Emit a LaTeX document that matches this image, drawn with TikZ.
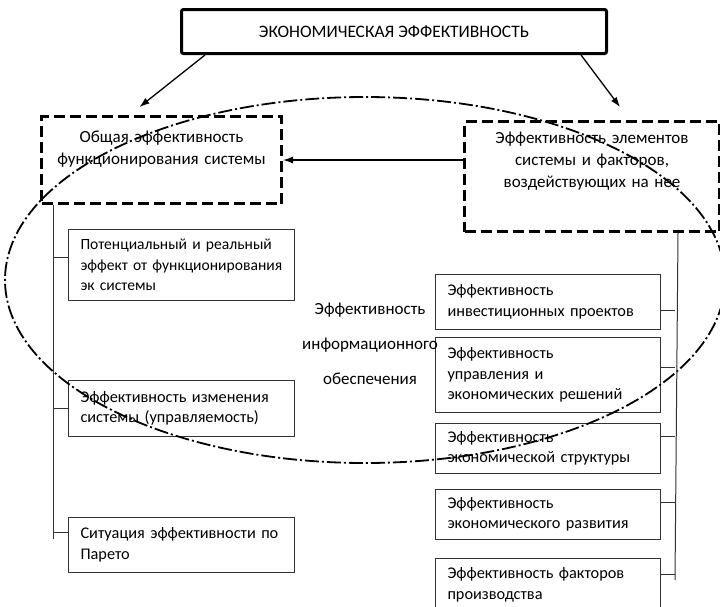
\documentclass[tikz,border=0pt]{standalone}
\usepackage{fontspec}
\setmainfont{Carlito}
\usetikzlibrary{arrows.meta}
\tikzset{
  box/.style={draw=black!80, line width=1pt, anchor=north west, inner xsep=12pt, align=left, font=\fontsize{16.3}{20.5}\selectfont},
  dbox/.style={draw, line width=3pt, dash pattern=on 11pt off 5pt, anchor=north west, align=center, text height=12pt, font=\fontsize{17}{22}\selectfont},
  arr/.style={line width=1.3pt, -{Latex[length=10pt,width=7pt]}},
  bus/.style={draw=black!80, line width=1pt}
}
\begin{document}
\begin{tikzpicture}[x=1pt,y=-1pt]
    \useasboundingbox (0,0) rectangle (720,606);
    \clip (0,0) rectangle (720,606);
    \fill[white] (0,0) rectangle (720,606);
    %% main title and the two groups
    \node[draw, line width=3pt, rounded corners=2pt, minimum width=425pt, minimum height=44pt, anchor=north west, font=\fontsize{17.5}{20}\selectfont] (eco) at (180,8) {ЭКОНОМИЧЕСКАЯ ЭФФЕКТИВНОСТЬ};
    \node[dbox, minimum width=240pt, minimum height=87pt, text width=216pt, text depth=48pt] (gen) at (40,115) {Общая эффективность\\функционирования системы};
    \node[dbox, minimum width=255pt, minimum height=110pt, text width=231pt, text depth=78pt] (elem) at (463,120) {Эффективность элементов\\системы и факторов,\\воздействующих на нее};
    %% left column
    \node[box, text width=202pt, minimum height=71pt, font=\fontsize{15.6}{20.5}\selectfont] (pot) at (68,229) {Потенциальный и реальный\\эффект от функционирования\\эк системы};
    \node[box, text width=202pt, minimum height=56pt] (izm) at (68,380) {Эффективность изменения\\системы (управляемость)};
    \node[box, text width=202pt, minimum height=55pt] (par) at (68,517) {Ситуация эффективности по\\Парето};
    %% right column
    \node[box, text width=201pt, minimum height=55pt] (inv) at (435,274) {Эффективность\\инвестиционных проектов};
    \node[box, text width=201pt, minimum height=75pt] (upr) at (435,337) {Эффективность\\управления и\\экономических решений};
    \node[box, text width=201pt, minimum height=50pt] (str) at (435,423) {Эффективность\\экономической структуры};
    \node[box, text width=201pt, minimum height=50pt] (raz) at (435,489) {Эффективность\\экономического развития};
    \node[box, text width=201pt, minimum height=53pt] (fak) at (435,558) {Эффективность факторов\\производства};
    %% information support
    \node[align=center, font=\fontsize{17}{35}\selectfont] (info) at (370,344) {Эффективность\\информационного\\обеспечения};
    \draw[line width=1.8pt, dash pattern=on 14pt off 3pt on 2pt off 3pt] (365,280) ellipse [x radius=360, y radius=183];
    %% arrows
    \draw[arr] ([xshift=25pt]eco.south west) -- ([xshift=-22pt,yshift=8pt]gen.north);
    \draw[arr] ([xshift=-27pt]eco.south east) -- ([xshift=28pt,yshift=13pt]elem.north);
    \draw[arr] (elem.west |- gen.east) -- (gen.east);
    %% buses
    \coordinate (lend) at (53,539);
    \coordinate (rend) at (675,580);
    \draw[bus] ([xshift=13pt]gen.south west) -- (lend);
    \draw[bus] ([xshift=-43pt]elem.south east) -- (rend);
    \foreach \b/\s in {pot/8,izm/0,par/13}
        \draw[bus] ([yshift=\s pt]\b.west) -- ([yshift=\s pt]\b.west -| lend);
    \foreach \b/\s in {inv/-8,upr/8,str/12,raz/12,fak/11}
        \draw[bus] ([yshift=\s pt]\b.east) -- ([yshift=\s pt]\b.east -| rend);
\end{tikzpicture}
\end{document}
